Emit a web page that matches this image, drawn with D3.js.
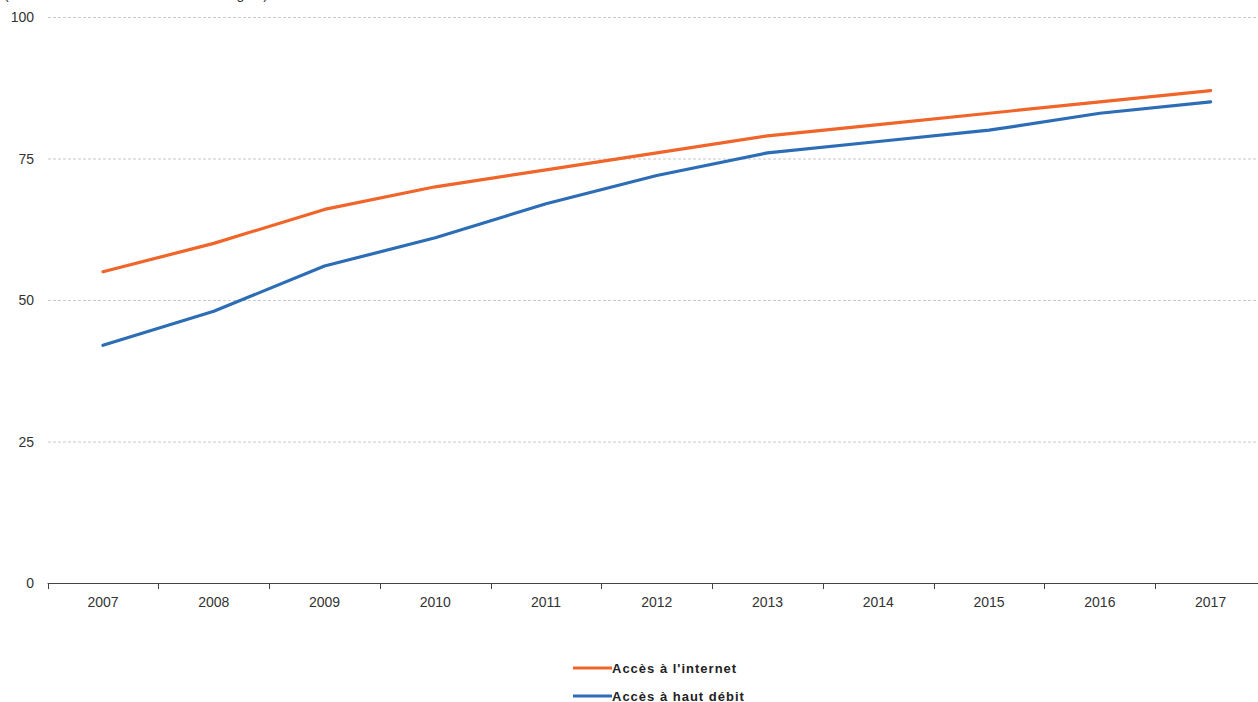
<!DOCTYPE html>
<html>
<head>
<meta charset="utf-8">
<script src="https://cdn.jsdelivr.net/npm/d3@7"></script>
<style>
  body { margin: 0; background: #fff; }
  svg { font-family: "Liberation Sans", Arial, sans-serif; }
</style>
</head>
<body>
<div id="chart"></div>
<script>
var years = ["2007","2008","2009","2010","2011","2012","2013","2014","2015","2016","2017"];
var internet = [55, 60, 66, 70, 73, 76, 79, 81, 83, 85, 87];
var broadband = [42, 48, 56, 61, 67, 72, 76, 78, 80, 83, 85];
var yTicks = [0, 25, 50, 75, 100];
var seriesNames = ["Accès à l'internet", "Accès à haut débit"];
var seriesColors = ["#f0652a", "#2d6db5"];

var width = 1258, height = 702;
var svg = d3.select("#chart").append("svg")
    .attr("width", width)
    .attr("height", height);

var x = d3.scaleBand().domain(years).range([47.6, 1266]);
var y = d3.scaleLinear().domain([0, 100]).range([583, 17]);

// subtitle, mostly cut off at top
svg.append("text")
    .attr("x", 4).attr("y", -1)
    .attr("textLength", 264)
    .attr("lengthAdjust", "spacing")
    .style("font-size", "14px").style("fill", "#333")
    .text("(en % de l'ensemble des ménages)");

// gridlines
svg.selectAll(".grid")
    .data(yTicks.filter(function(d) { return d > 0; }))
    .enter().append("line")
    .attr("x1", 48).attr("x2", width)
    .attr("y1", function(d) { return y(d) + 0.5; })
    .attr("y2", function(d) { return y(d) + 0.5; })
    .style("stroke", "#c8c8c8")
    .style("stroke-dasharray", "3,2")
    .style("stroke-width", 1);

// y labels
svg.selectAll(".ylab")
    .data(yTicks)
    .enter().append("text")
    .attr("x", 34)
    .attr("y", function(d) { return y(d) + 5; })
    .attr("text-anchor", "end")
    .style("font-size", "14px").style("fill", "#333")
    .text(function(d) { return d; });

// x axis
var xAxis = d3.axisBottom(x).tickSize(0).tickPadding(14);
var gx = svg.append("g")
    .attr("transform", "translate(0," + (y(0) + 0.5) + ")")
    .call(xAxis);
gx.select(".domain").remove();
gx.selectAll("text").style("font-size", "14px").style("fill", "#333")
    .style("font-family", "Liberation Sans, Arial, sans-serif");
svg.append("line")
    .attr("x1", 47.6).attr("x2", width)
    .attr("y1", y(0) + 0.5).attr("y2", y(0) + 0.5)
    .style("stroke", "#444").style("stroke-width", 1.2);
var bounds = years.map(function(d) { return x(d); });
svg.selectAll(".xtick")
    .data(bounds)
    .enter().append("line")
    .attr("x1", function(d) { return Math.round(d) + 0.5; })
    .attr("x2", function(d) { return Math.round(d) + 0.5; })
    .attr("y1", y(0)).attr("y2", y(0) + 6)
    .style("stroke", "#444");

// lines
var line = d3.line()
    .x(function(d, i) { return x(years[i]) + x.bandwidth() / 2; })
    .y(function(d) { return y(d); });

[internet, broadband].forEach(function(s, k) {
    svg.append("path")
        .datum(s)
        .attr("d", line)
        .style("fill", "none")
        .style("stroke", seriesColors[k])
        .style("stroke-width", 3.2)
        .style("stroke-linejoin", "round")
        .style("stroke-linecap", "round");
});

// legend
var leg = svg.selectAll(".leg")
    .data(seriesNames)
    .enter().append("g")
    .attr("transform", function(d, i) { return "translate(573," + (668 + i * 28) + ")"; });
leg.append("line")
    .attr("x1", 0).attr("x2", 39).attr("y1", 0).attr("y2", 0)
    .style("stroke", function(d, i) { return seriesColors[i]; })
    .style("stroke-width", 3);
leg.append("text")
    .attr("x", 39).attr("y", 5)
    .style("font-size", "13px").style("font-weight", "bold")
    .style("letter-spacing", "1px")
    .style("fill", "#222")
    .text(function(d) { return d; });
</script>
</body>
</html>
